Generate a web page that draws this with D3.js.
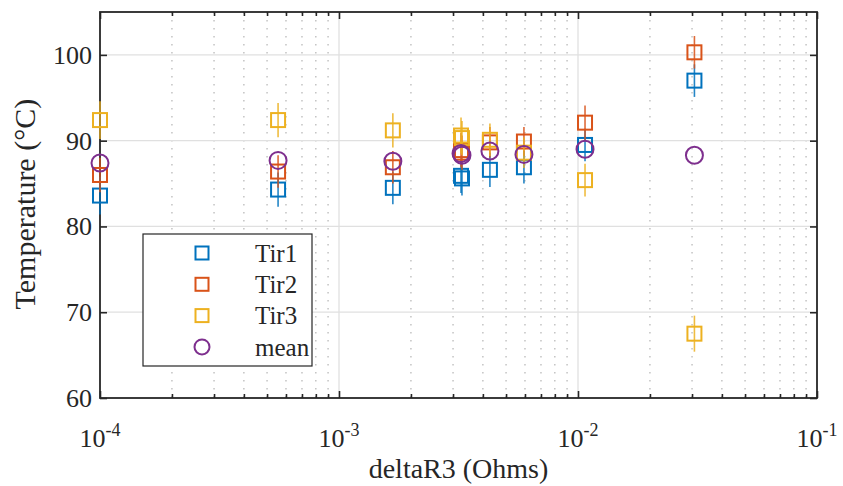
<!DOCTYPE html>
<html lang="en">
<head>
    <meta charset="UTF-8">
    <title>Temperature vs deltaR3</title>
    <script src="https://d3js.org/d3.v7.min.js"></script>
    <style>
        body { margin: 0; background: #fff; }
        text { font-family: "Liberation Serif", "Times New Roman", serif; fill: #262626; }
    </style>
</head>
<body>
    <svg width="843" height="486"></svg>

    <script>
        // data
        const deltaR3 = [1.0e-4, 5.56e-4, 1.68e-3, 3.24e-3, 3.27e-3, 4.28e-3, 5.94e-3, 1.07e-2, 3.07e-2];
        const tir1 = [83.6, 84.3, 84.5, 85.9, 85.6, 86.6, 86.9, 89.5, 97.0];
        const tir2 = [86.0, 86.4, 86.9, 88.9, 88.6, 89.8, 89.9, 92.1, 100.3];
        const tir3 = [92.4, 92.4, 91.2, 90.6, 90.3, 90.1, 88.6, 85.4, 67.5];
        const meanT = [87.4, 87.7, 87.6, 88.5, 88.3, 88.8, 88.4, 89.0, 88.3];
        const err1 = [2.2, 2.0, 1.9, 2.0, 2.0, 2.0, 1.9, 1.9, 1.9];
        const err2 = [2.0, 1.9, 1.9, 2.0, 2.0, 1.8, 1.7, 2.0, 1.9];
        const err3 = [2.2, 2.0, 2.0, 2.1, 2.0, 1.9, 1.8, 1.9, 2.1];
        const yTicks = [60, 70, 80, 90, 100];
        const xDecades = [1e-4, 1e-3, 1e-2, 1e-1];
        const xExponents = ["-4", "-3", "-2", "-1"];
        const seriesNames = ["Tir1", "Tir2", "Tir3", "mean"];
        const seriesColors = ["#0072BD", "#D95319", "#EDB120", "#7E2F8E"];

        const margin = { top: 12, right: 26, bottom: 88, left: 100 };
        const width = 843 - margin.left - margin.right;
        const height = 486 - margin.top - margin.bottom;
        const axisColor = "#262626";

        const svg = d3.select("svg")
            .append("g")
            .attr("transform", `translate(${margin.left},${margin.top})`);

        const x = d3.scaleLog().domain([1e-4, 1e-1]).range([0, width]);
        const y = d3.scaleLinear().domain([60, 105]).range([height, 0]);

        // minor x ticks 2..9 per decade
        const minorX = [];
        xDecades.slice(0, -1).forEach(d => {
            for (let k = 2; k <= 9; k++) minorX.push(d * k);
        });

        // grid: dotted minor, solid major
        svg.append("g").selectAll("line").data(minorX).join("line")
            .attr("x1", d => x(d)).attr("x2", d => x(d))
            .attr("y1", 0).attr("y2", height)
            .attr("stroke", "#b4b4b4").attr("stroke-width", 1.2)
            .attr("stroke-dasharray", "1.5,6.5");
        svg.append("g").selectAll("line").data(xDecades.slice(1, -1)).join("line")
            .attr("x1", d => x(d)).attr("x2", d => x(d))
            .attr("y1", 0).attr("y2", height)
            .attr("stroke", "#e0e0e0").attr("stroke-width", 1.3);
        svg.append("g").selectAll("line").data(yTicks.slice(1)).join("line")
            .attr("x1", 0).attr("x2", width)
            .attr("y1", d => y(d)).attr("y2", d => y(d))
            .attr("stroke", "#e0e0e0").attr("stroke-width", 1.3);

        // axes (ticks pointing inward, mirrored on top/right)
        const fmtNone = () => "";
        svg.append("g").attr("transform", `translate(0,${height})`)
            .call(d3.axisTop(x).tickValues(xDecades).tickSize(7).tickFormat(fmtNone));
        svg.append("g").attr("transform", `translate(0,${height})`)
            .call(d3.axisTop(x).tickValues(minorX).tickSize(4).tickFormat(fmtNone));
        svg.append("g")
            .call(d3.axisBottom(x).tickValues(xDecades).tickSize(7).tickFormat(fmtNone));
        svg.append("g")
            .call(d3.axisBottom(x).tickValues(minorX).tickSize(4).tickFormat(fmtNone));
        svg.append("g")
            .call(d3.axisRight(y).tickValues(yTicks).tickSize(7).tickFormat(fmtNone));
        svg.append("g").attr("transform", `translate(${width},0)`)
            .call(d3.axisLeft(y).tickValues(yTicks).tickSize(7).tickFormat(fmtNone));
        svg.selectAll(".domain").remove();
        svg.selectAll(".tick line").attr("stroke", axisColor).attr("stroke-width", 1.6);

        svg.append("rect")
            .attr("width", width).attr("height", height)
            .attr("fill", "none").attr("stroke", axisColor).attr("stroke-width", 1.8);

        // tick labels
        svg.append("g").selectAll("text").data(yTicks).join("text")
            .attr("x", -8).attr("y", d => y(d)).attr("dy", "0.34em")
            .attr("text-anchor", "end").attr("font-size", 26)
            .text(d => d);

        const xl = svg.append("g").selectAll("text").data(xDecades).join("text")
            .attr("x", d => x(d)).attr("y", height + 49)
            .attr("text-anchor", "middle").attr("font-size", 26);
        xl.append("tspan").text("10");
        xl.append("tspan").attr("dy", -11).attr("font-size", 18).text((d, i) => xExponents[i]);

        // axis labels
        svg.append("text")
            .attr("x", width / 2).attr("y", height + 80)
            .attr("text-anchor", "middle").attr("font-size", 28)
            .text("deltaR3 (Ohms)");
        svg.append("text")
            .attr("transform", `translate(${-margin.left + 35},${y(82.6)}) rotate(-90)`)
            .attr("text-anchor", "middle").attr("font-size", 30)
            .text("Temperature (°C)");

        // series
        const squareSize = 14;
        const series = [
            { vals: tir1, err: err1 },
            { vals: tir2, err: err2 },
            { vals: tir3, err: err3 }
        ];
        series.forEach((s, si) => {
            const g = svg.append("g");
            const col = seriesColors[si];
            g.selectAll("line").data(deltaR3).join("line")
                .attr("x1", d => x(d)).attr("x2", d => x(d))
                .attr("y1", (d, i) => y(s.vals[i] - s.err[i]))
                .attr("y2", (d, i) => y(s.vals[i] + s.err[i]))
                .attr("stroke", col).attr("stroke-width", 1.6).attr("opacity", 0.85);
            g.selectAll("rect").data(deltaR3).join("rect")
                .attr("x", d => x(d) - squareSize / 2)
                .attr("y", (d, i) => y(s.vals[i]) - squareSize / 2)
                .attr("width", squareSize).attr("height", squareSize)
                .attr("fill", "none").attr("stroke", col).attr("stroke-width", 2);
        });
        svg.append("g").selectAll("circle").data(deltaR3).join("circle")
            .attr("cx", d => x(d)).attr("cy", (d, i) => y(meanT[i]))
            .attr("r", 8.5)
            .attr("fill", "none").attr("stroke", seriesColors[3]).attr("stroke-width", 2);

        // legend
        const lg = svg.append("g").attr("transform", `translate(${143 - margin.left},${234 - margin.top})`);
        lg.append("rect").attr("width", 169).attr("height", 132)
            .attr("fill", "#fff").attr("stroke", axisColor).attr("stroke-width", 1.2);
        seriesNames.forEach((name, i) => {
            const cy = 19 + i * 31.3;
            if (i < 3) {
                lg.append("rect").attr("x", 59 - 6.5).attr("y", cy - 6.5)
                    .attr("width", 13).attr("height", 13)
                    .attr("fill", "none").attr("stroke", seriesColors[i]).attr("stroke-width", 2);
            } else {
                lg.append("circle").attr("cx", 59).attr("cy", cy).attr("r", 7.5)
                    .attr("fill", "none").attr("stroke", seriesColors[i]).attr("stroke-width", 2);
            }
            lg.append("text").attr("x", 112).attr("y", cy).attr("dy", "0.35em")
                .attr("font-size", 25).text(name);
        });
    </script>
</body>
</html>
